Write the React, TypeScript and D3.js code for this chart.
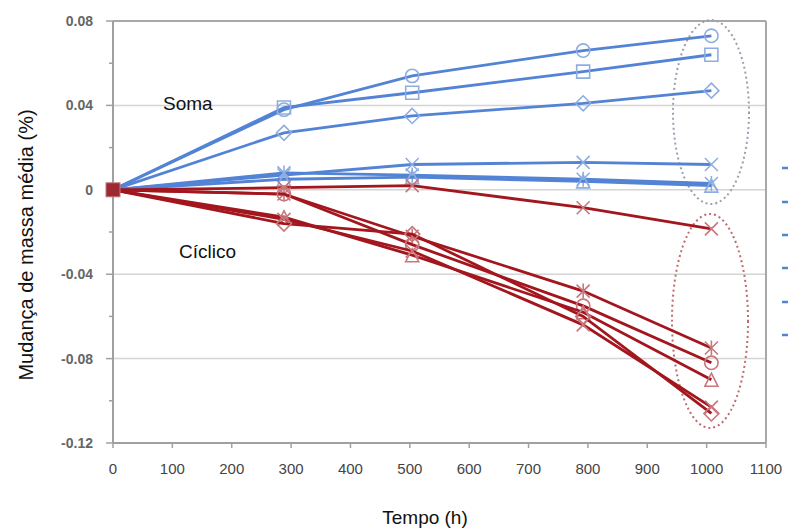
import React from "react";
import * as d3 from "d3";

const hours = [0, 288, 504, 792, 1008];

const somaCircle = [0, 0.038, 0.054, 0.066, 0.073];
const somaSquare = [0, 0.039, 0.046, 0.056, 0.064];
const somaDiamond = [0, 0.027, 0.035, 0.041, 0.047];
const somaCross = [0, 0.007, 0.012, 0.013, 0.012];
const somaStar = [0, 0.008, 0.007, 0.005, 0.003];
const somaTriangle = [0, 0.005, 0.006, 0.004, 0.002];

const cicCross1 = [0, 0.001, 0.002, -0.0085, -0.0185];
const cicCross2 = [0, -0.002, -0.022, -0.048, -0.075];
const cicCircle = [0, -0.002, -0.026, -0.055, -0.082];
const cicTriangle = [0, -0.013, -0.031, -0.058, -0.09];
const cicCross3 = [0, -0.014, -0.029, -0.064, -0.103];
const cicDiamond = [0, -0.016, -0.021, -0.06, -0.106];

const yTicks = [0.08, 0.04, 0, -0.04, -0.08, -0.12];
const yTickLabels = ["0.08", "0.04", "0", "-0.04", "-0.08", "-0.12"];
const yMinorTicks = [0.06, 0.02, -0.02, -0.06, -0.1];
const xTicks = [0, 100, 200, 300, 400, 500, 600, 700, 800, 900, 1000, 1100];
const gridValues = [0.04, 0, -0.04, -0.08];

type Shape = "circle" | "square" | "diamond" | "cross" | "star" | "triangle";

const blueSeries: { v: number[]; s: Shape }[] = [
  { v: somaCircle, s: "circle" },
  { v: somaSquare, s: "square" },
  { v: somaDiamond, s: "diamond" },
  { v: somaCross, s: "cross" },
  { v: somaStar, s: "star" },
  { v: somaTriangle, s: "triangle" },
];
const redSeries: { v: number[]; s: Shape }[] = [
  { v: cicCross1, s: "cross" },
  { v: cicCross2, s: "star" },
  { v: cicCircle, s: "circle" },
  { v: cicTriangle, s: "triangle" },
  { v: cicCross3, s: "cross" },
  { v: cicDiamond, s: "diamond" },
];

const BLUE_LINE = "#5383D5";
const BLUE_MARK = "#8FAEE0";
const RED_LINE = "#A3161E";
const RED_MARK = "#C8777C";

const x = d3.scaleLinear().domain([0, 1100]).range([113, 766]);
const y = d3.scaleLinear().domain([-0.12, 0.08]).range([443, 21]);

function markerPath(s: Shape): string {
  const r = 6.5;
  switch (s) {
    case "circle":
      return d3.symbol(d3.symbolCircle, 140)() as string;
    case "square":
      return `M${-r},${-r}H${r}V${r}H${-r}Z`;
    case "diamond":
      return `M0,${-r - 1}L${r + 1},0L0,${r + 1}L${-r - 1},0Z`;
    case "triangle":
      return `M0,${-r}L${r},${r}L${-r},${r}Z`;
    case "cross":
      return `M${-r},${-r}L${r},${r}M${-r},${r}L${r},${-r}`;
    case "star":
      return `M${-r},${-r}L${r},${r}M${-r},${r}L${r},${-r}M0,${-r - 1}V${r + 1}`;
  }
}

const line = d3
  .line<number>()
  .x((_, i) => x(hours[i]))
  .y((d) => y(d));

const font = "'Liberation Sans', Arial, sans-serif";

export default function App() {
  return (
    <svg
      width={788}
      height={531}
      style={{ position: "absolute", left: 0, top: 0, background: "#fff" }}
    >
      {gridValues.map((g) => (
        <line key={g} x1={113} x2={766} y1={y(g)} y2={y(g)} stroke="#d4d4d4" strokeWidth={1.5} />
      ))}
      <line x1={113} x2={766} y1={y(0.08)} y2={y(0.08)} stroke="#a8a8a8" strokeWidth={2} />
      <line x1={766} x2={766} y1={y(0.08)} y2={y(-0.12)} stroke="#a8a8a8" strokeWidth={2} />
      <line x1={113} x2={766} y1={y(-0.12)} y2={y(-0.12)} stroke="#a0a0a0" strokeWidth={2} />
      <line x1={113} x2={113} y1={y(0.08)} y2={y(-0.12)} stroke="#a0a0a0" strokeWidth={2} />
      {yTicks.map((t) => (
        <line key={t} x1={106} x2={113} y1={y(t)} y2={y(t)} stroke="#a0a0a0" strokeWidth={1.5} />
      ))}
      {yMinorTicks.map((t) => (
        <line key={t} x1={109} x2={113} y1={y(t)} y2={y(t)} stroke="#a0a0a0" strokeWidth={1.5} />
      ))}
      {xTicks.map((t) => (
        <line key={t} x1={x(t)} x2={x(t)} y1={443} y2={448} stroke="#a0a0a0" strokeWidth={1.5} />
      ))}
      {yTicks.map((t, i) => (
        <text
          key={t}
          x={93}
          y={y(t) + 5}
          textAnchor="end"
          fontFamily={font}
          fontSize={14}
          fontWeight="bold"
          fill="#666"
        >
          {yTickLabels[i]}
        </text>
      ))}
      {xTicks.map((t) => (
        <text
          key={t}
          x={x(t)}
          y={474}
          textAnchor="middle"
          fontFamily={font}
          fontSize={15}
          fill="#444"
        >
          {t}
        </text>
      ))}
      <ellipse cx={711} cy={112} rx={38} ry={92} fill="none" stroke="#9a9fae" strokeWidth={2} strokeDasharray="2,3" />
      <ellipse cx={710} cy={321} rx={38} ry={107} fill="none" stroke="#c06a6f" strokeWidth={2} strokeDasharray="2,3" />
      {blueSeries.map((s, i) => (
        <g key={"b" + i}>
          <path d={line(s.v) as string} fill="none" stroke={BLUE_LINE} strokeWidth={2.8} />
          {s.v.map((v, j) =>
            j === 0 ? null : (
              <path
                key={j}
                d={markerPath(s.s)}
                transform={`translate(${x(hours[j])},${y(v)})`}
                fill="none"
                stroke={BLUE_MARK}
                strokeWidth={1.6}
              />
            )
          )}
        </g>
      ))}
      {redSeries.map((s, i) => (
        <g key={"r" + i}>
          <path d={line(s.v) as string} fill="none" stroke={RED_LINE} strokeWidth={2.8} />
          {s.v.map((v, j) =>
            j === 0 ? null : (
              <path
                key={j}
                d={markerPath(s.s)}
                transform={`translate(${x(hours[j])},${y(v)})`}
                fill="none"
                stroke={RED_MARK}
                strokeWidth={1.6}
              />
            )
          )}
        </g>
      ))}
      <rect x={x(0) - 7} y={y(0) - 7} width={14} height={14} fill="#9b2a35" stroke="#c8777c" strokeWidth={1} />
      {[168, 202, 235, 268, 302, 335].map((ly) => (
        <line key={ly} x1={782} x2={788} y1={ly} y2={ly} stroke={BLUE_LINE} strokeWidth={2.5} />
      ))}
      <text x={163} y={110} fontFamily={font} fontSize={19} fill="#111">
        Soma
      </text>
      <text x={179} y={258} fontFamily={font} fontSize={19} fill="#111">
        Cíclico
      </text>
      <text x={425} y={524} textAnchor="middle" fontFamily={font} fontSize={19} fill="#111">
        Tempo (h)
      </text>
      <text
        transform={`translate(33,245) rotate(-90)`}
        textAnchor="middle"
        fontFamily={font}
        fontSize={20}
        fill="#111"
      >
        Mudança de massa média (%)
      </text>
    </svg>
  );
}
